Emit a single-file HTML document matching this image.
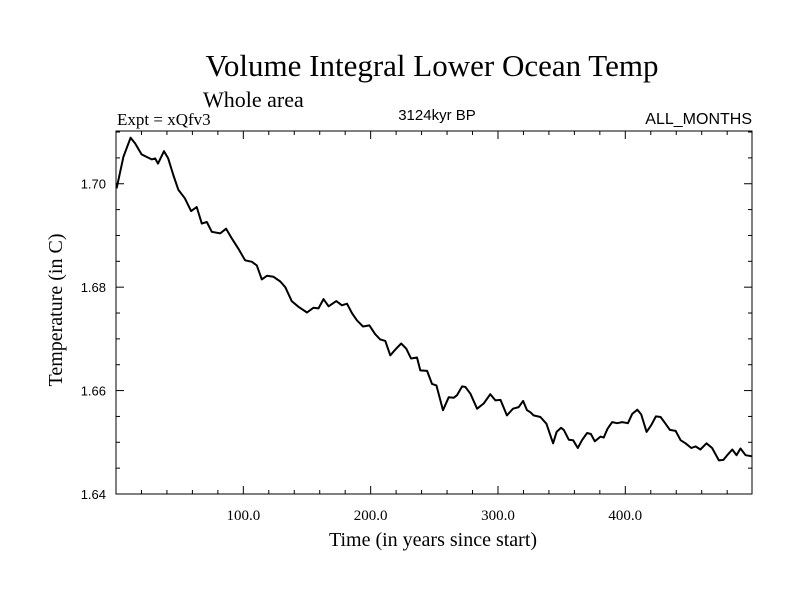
<!DOCTYPE html>
<html><head><meta charset="utf-8"><style>body{margin:0;background:#fff}</style></head>
<body>
<svg id="chart" width="800" height="600" xmlns="http://www.w3.org/2000/svg">
<rect width="800" height="600" fill="#fff"/>
<text x="432" y="76" font-family="Liberation Serif, serif" font-size="31" text-anchor="middle">Volume Integral Lower Ocean Temp</text>
<text x="203" y="107" font-family="Liberation Serif, serif" font-size="22">Whole area</text>
<text x="117" y="125" font-family="Liberation Serif, serif" font-size="17">Expt = xQfv3</text>
<text x="437" y="120" font-family="Liberation Sans, sans-serif" font-size="15" text-anchor="middle">3124kyr BP</text>
<text x="752" y="124" font-family="Liberation Sans, sans-serif" font-size="16" text-anchor="end">ALL_MONTHS</text>
<text transform="translate(62,310) rotate(-90)" font-family="Liberation Serif, serif" font-size="20" text-anchor="middle">Temperature (in C)</text>
<text x="433" y="546" font-family="Liberation Serif, serif" font-size="20" text-anchor="middle">Time (in years since start)</text>
<g id="axes"></g>
<path id="series" fill="none" stroke="#000" stroke-width="2" stroke-linejoin="round"/>
</svg>
<script>
const years=[0.5,5.8,11.5,15,20,24,28,30.7,33,37.7,41,45,49,54,59,63.4,67.4,71.3,75.2,81.8,86.5,91,96,101.4,106.7,110.6,114.5,118.5,123.7,129,133,138,143.3,150,155,159,163,167,173,177.4,181.4,185.3,189.2,194,199,203.6,207.5,211.5,215.4,219.3,224,228,231.7,236.4,239,244.3,248.2,251.6,256.8,261.3,265.2,267.8,271.8,274.4,278.3,283.6,288.8,294,298,302,307,311.8,316.3,319.7,322.8,325.5,328,333.3,338,343.3,346,349.6,351.7,355.6,359,362.7,366,370,373,376,380.5,383,386,389.7,393.6,397.5,402,405.4,409.4,412.5,416.7,420.3,424,427.7,431.6,435,439.5,443.4,447.3,451.8,455.2,459,463.8,468.2,473.5,477,480,484,487.3,490.5,494.5,499.5];
const temps=[1.6991,1.7052,1.7089,1.7078,1.7057,1.7052,1.7047,1.7049,1.7039,1.7063,1.7049,1.7017,1.6988,1.6972,1.6947,1.6955,1.6923,1.6926,1.6907,1.6904,1.6913,1.6894,1.6875,1.6852,1.6849,1.6842,1.6815,1.6822,1.6820,1.6811,1.6800,1.6773,1.6762,1.6751,1.6760,1.6759,1.6777,1.6763,1.6773,1.6765,1.6768,1.6750,1.6736,1.6724,1.6726,1.6709,1.6699,1.6696,1.6668,1.6679,1.6691,1.6681,1.6662,1.6664,1.6639,1.6638,1.6613,1.6610,1.6562,1.6587,1.6586,1.6591,1.6608,1.6607,1.6594,1.6565,1.6575,1.6593,1.6581,1.6582,1.6552,1.6565,1.6568,1.6580,1.6562,1.6558,1.6552,1.6549,1.6536,1.6498,1.6520,1.6528,1.6524,1.6505,1.6504,1.6489,1.6504,1.6518,1.6516,1.6502,1.6511,1.6509,1.6526,1.6539,1.6537,1.6539,1.6537,1.6555,1.6563,1.6554,1.6520,1.6533,1.6550,1.6549,1.6536,1.6524,1.6522,1.6504,1.6498,1.6489,1.6492,1.6486,1.6498,1.6489,1.6465,1.6466,1.6475,1.6486,1.6475,1.6488,1.6475,1.6473];
const xTicks=[100,200,300,400];
const xTickLabels=["100.0","200.0","300.0","400.0"];
const yTicks=[1.64,1.66,1.68,1.70];
const yTickLabels=["1.64","1.66","1.68","1.70"];
const X0=0,X1=499.5,Y0=1.64,Y1=1.7102;
const L=116,R=752,T=131,B=494;
const sx=v=>L+(v-X0)/(X1-X0)*(R-L);
const sy=v=>B-(v-Y0)/(Y1-Y0)*(B-T);
const NS="http://www.w3.org/2000/svg";
const g=document.getElementById('axes');
function ln(x1,y1,x2,y2,name){const e=document.createElementNS(NS,'line');
e.setAttribute('x1',x1);e.setAttribute('y1',y1);e.setAttribute('x2',x2);e.setAttribute('y2',y2);
e.setAttribute('stroke','#000');e.setAttribute('stroke-width','1');


g.appendChild(e);}
const fr=document.createElementNS(NS,'rect');
fr.setAttribute('x',L);fr.setAttribute('y',T);fr.setAttribute('width',R-L);fr.setAttribute('height',B-T);
fr.setAttribute('fill','none');fr.setAttribute('stroke','#000');fr.setAttribute('stroke-width','1');


g.appendChild(fr);
for(let v=20;v<X1;v+=20){const x=sx(v);const major=(v%100===0);const len=major?8:4;
ln(x,B,x,B-len,'x-tick');ln(x,T,x,T+len,'x-tick-top');}
for(let v=1.645;v<Y1;v+=0.005){const y=sy(v);const major=Math.abs(Math.round(v*100)/100-v)<1e-6&&Math.round(v*100)%2===0;const len=major?8:4;
ln(L,y,L+len,y,'y-tick');ln(R,y,R-len,y,'y-tick-right');}
xTicks.forEach((v,i)=>{const t=document.createElementNS(NS,'text');
t.setAttribute('x',sx(v));t.setAttribute('y',520);t.setAttribute('text-anchor','middle');
t.setAttribute('font-family','Liberation Serif, serif');t.setAttribute('font-size','15');
t.textContent=xTickLabels[i];


g.appendChild(t);});
yTicks.forEach((v,i)=>{const t=document.createElementNS(NS,'text');
t.setAttribute('x',106);t.setAttribute('y',sy(v)+5);t.setAttribute('text-anchor','end');
t.setAttribute('font-family','Liberation Sans, sans-serif');t.setAttribute('font-size','13');
t.textContent=yTickLabels[i];


g.appendChild(t);});
document.getElementById('series').setAttribute('d',years.map((y,i)=>(i?'L':'M')+sx(y).toFixed(1)+','+sy(temps[i]).toFixed(1)).join(''));
</script>
</body></html>
